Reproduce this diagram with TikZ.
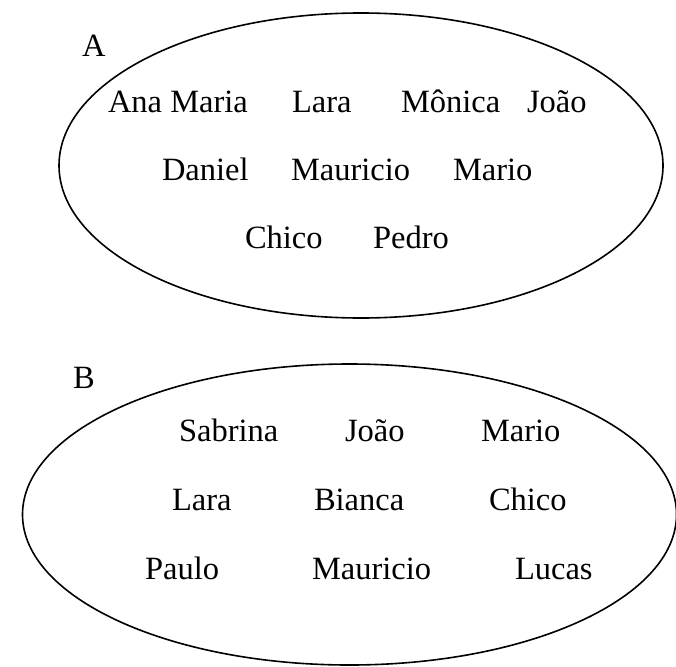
\documentclass[tikz,border=0pt]{standalone}
\usepackage{fontspec}
\setmainfont{Liberation Serif}
\usetikzlibrary{shapes.geometric}
\tikzset{
  setshape/.style={ellipse, draw=black, line width=1.6pt, inner sep=0pt, outer sep=0pt},
  nm/.style={anchor=base west, inner sep=0pt, outer sep=0pt, font=\fontsize{32.5}{36}\selectfont},
}
\begin{document}
\begin{tikzpicture}[x=1pt, y=-1pt]
\useasboundingbox (0,0) rectangle (676,666);
% Set A
\node[setshape, minimum width=604pt, minimum height=305pt] (setA) at (361,165.5) {};
\node[nm] (labA) at (82,57) {A};
\node[nm] (a1) at (108,112) {Ana Maria};
\node[nm] (a2) at (292,112) {Lara};
\node[nm] (a3) at (401,112) {Mônica};
\node[nm] (a4) at (527,112) {João};
\node[nm] (a5) at (162,180) {Daniel};
\node[nm] (a6) at (291,180) {Mauricio};
\node[nm] (a7) at (453,180) {Mario};
\node[nm] (a8) at (245,248) {Chico};
\node[nm] (a9) at (373,248) {Pedro};
% Set B
\node[setshape, minimum width=654pt, minimum height=301pt] (setB) at (349.5,514.5) {};
\node[nm] (labB) at (73,388) {B};
\node[nm] (b1) at (179,441) {Sabrina};
\node[nm] (b2) at (345,441) {João};
\node[nm] (b3) at (481,441) {Mario};
\node[nm] (b4) at (172,510) {Lara};
\node[nm] (b5) at (314,510) {Bianca};
\node[nm] (b6) at (489,510) {Chico};
\node[nm] (b7) at (145,579) {Paulo};
\node[nm] (b8) at (312,579) {Mauricio};
\node[nm] (b9) at (515,579) {Lucas};
\end{tikzpicture}
\end{document}
